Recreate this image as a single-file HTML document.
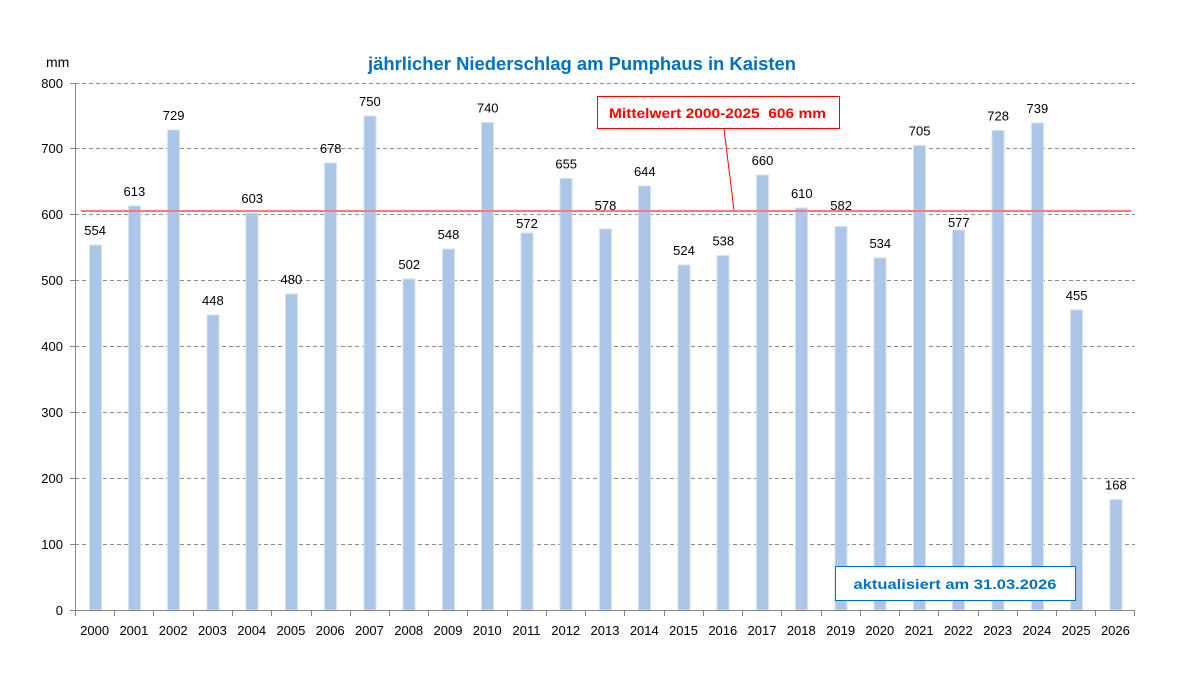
<!DOCTYPE html>
<html><head><meta charset="utf-8"><style>
html,body{margin:0;padding:0;background:#fff;}
svg{display:block;}
text{font-family:"Liberation Sans",sans-serif;}
</style></head><body>
<svg width="1180" height="681" viewBox="0 0 1180 681" xmlns="http://www.w3.org/2000/svg">
<rect width="1180" height="681" fill="#fff"/>
<text x="582" y="70" text-anchor="middle" font-size="18" font-weight="bold" fill="#0070C0" textLength="428" lengthAdjust="spacingAndGlyphs">jährlicher Niederschlag am Pumphaus in Kaisten</text>
<text x="46" y="67" font-size="14" fill="#000">mm</text>
<g stroke="#8c8c8c" stroke-width="1" stroke-dasharray="4,3">
<line x1="75" y1="83.5" x2="1135" y2="83.5"/>
<line x1="75" y1="148.5" x2="1135" y2="148.5"/>
<line x1="75" y1="214.5" x2="1135" y2="214.5"/>
<line x1="75" y1="280.5" x2="1135" y2="280.5"/>
<line x1="75" y1="346.5" x2="1135" y2="346.5"/>
<line x1="75" y1="412.5" x2="1135" y2="412.5"/>
<line x1="75" y1="478.5" x2="1135" y2="478.5"/>
<line x1="75" y1="544.5" x2="1135" y2="544.5"/>
</g>
<g font-size="13" fill="#000" text-anchor="end">
<text x="63" y="88">800</text>
<text x="63" y="153">700</text>
<text x="63" y="219">600</text>
<text x="63" y="285">500</text>
<text x="63" y="351">400</text>
<text x="63" y="417">300</text>
<text x="63" y="483">200</text>
<text x="63" y="549">100</text>
<text x="63" y="615">0</text>
</g>
<g fill="#abc6e7" stroke="#d3e1f2" stroke-width="1">
<rect x="89.5" y="245" width="12" height="365"/>
<rect x="128.5" y="206" width="12" height="404"/>
<rect x="167.5" y="130" width="12" height="480"/>
<rect x="207" y="315" width="12" height="295"/>
<rect x="246" y="213" width="12" height="397"/>
<rect x="285.5" y="294" width="12" height="316"/>
<rect x="324.5" y="163" width="12" height="447"/>
<rect x="364" y="116" width="12" height="494"/>
<rect x="403" y="279" width="12" height="331"/>
<rect x="442.5" y="249" width="12" height="361"/>
<rect x="481.5" y="122.5" width="12" height="487.5"/>
<rect x="521" y="233" width="12" height="377"/>
<rect x="560" y="178.5" width="12" height="431.5"/>
<rect x="599.5" y="229" width="12" height="381"/>
<rect x="638.5" y="186" width="12" height="424"/>
<rect x="678" y="265" width="12" height="345"/>
<rect x="717" y="255.5" width="12" height="354.5"/>
<rect x="756.5" y="175" width="12" height="435"/>
<rect x="795.5" y="208" width="12" height="402"/>
<rect x="835" y="226.5" width="12" height="383.5"/>
<rect x="874" y="258" width="12" height="352"/>
<rect x="913.5" y="145.5" width="12" height="464.5"/>
<rect x="952.5" y="230" width="12" height="380"/>
<rect x="992" y="130.5" width="12" height="479.5"/>
<rect x="1031.5" y="123" width="12" height="487"/>
<rect x="1070.5" y="310" width="12" height="300"/>
<rect x="1110" y="499.5" width="12" height="110.5"/>
</g>
<line x1="81" y1="211" x2="1131" y2="211" stroke="#f47c7c" stroke-width="2"/>
<g font-size="13" fill="#000" text-anchor="middle">
<text x="95.1" y="235">554</text>
<text x="134.4" y="196">613</text>
<text x="173.6" y="120">729</text>
<text x="212.9" y="305">448</text>
<text x="252.2" y="203">603</text>
<text x="291.4" y="284">480</text>
<text x="330.7" y="153">678</text>
<text x="369.9" y="106">750</text>
<text x="409.2" y="269">502</text>
<text x="448.5" y="239">548</text>
<text x="487.7" y="112.5">740</text>
<text x="527" y="228">572</text>
<text x="566.2" y="168.5">655</text>
<text x="605.5" y="210">578</text>
<text x="644.8" y="176">644</text>
<text x="684" y="255">524</text>
<text x="723.3" y="245.5">538</text>
<text x="762.5" y="165">660</text>
<text x="801.8" y="198">610</text>
<text x="841.1" y="210">582</text>
<text x="880.3" y="248">534</text>
<text x="919.6" y="135.5">705</text>
<text x="958.8" y="227">577</text>
<text x="998.1" y="120.5">728</text>
<text x="1037.4" y="113">739</text>
<text x="1076.6" y="300">455</text>
<text x="1115.9" y="489.5">168</text>
</g>
<line x1="724" y1="129" x2="734" y2="210" stroke="#ff0000" stroke-width="1"/>
<rect x="597.5" y="96.5" width="242" height="32" fill="#fff" stroke="#ff0000" stroke-width="1"/>
<text x="717.5" y="118" text-anchor="middle" font-size="14" font-weight="bold" fill="#ff0000" textLength="217" lengthAdjust="spacingAndGlyphs" xml:space="preserve">Mittelwert 2000-2025  606 mm</text>
<rect x="835.5" y="566.5" width="240" height="34" fill="#fff" stroke="#0070C0" stroke-width="1"/>
<text x="955" y="589" text-anchor="middle" font-size="14" font-weight="bold" fill="#0070C0" textLength="203" lengthAdjust="spacingAndGlyphs">aktualisiert am 31.03.2026</text>
<g stroke="#868686" stroke-width="1">
<line x1="75.5" y1="83" x2="75.5" y2="610"/>
<line x1="75" y1="610.5" x2="1135" y2="610.5"/>
<line x1="70" y1="83.5" x2="75" y2="83.5"/>
<line x1="70" y1="148.5" x2="75" y2="148.5"/>
<line x1="70" y1="214.5" x2="75" y2="214.5"/>
<line x1="70" y1="280.5" x2="75" y2="280.5"/>
<line x1="70" y1="346.5" x2="75" y2="346.5"/>
<line x1="70" y1="412.5" x2="75" y2="412.5"/>
<line x1="70" y1="478.5" x2="75" y2="478.5"/>
<line x1="70" y1="544.5" x2="75" y2="544.5"/>
<line x1="70" y1="610.5" x2="75" y2="610.5"/>
<line x1="75.5" y1="610" x2="75.5" y2="616"/>
<line x1="114.5" y1="610" x2="114.5" y2="616"/>
<line x1="153.5" y1="610" x2="153.5" y2="616"/>
<line x1="193.5" y1="610" x2="193.5" y2="616"/>
<line x1="232.5" y1="610" x2="232.5" y2="616"/>
<line x1="271.5" y1="610" x2="271.5" y2="616"/>
<line x1="311.5" y1="610" x2="311.5" y2="616"/>
<line x1="350.5" y1="610" x2="350.5" y2="616"/>
<line x1="389.5" y1="610" x2="389.5" y2="616"/>
<line x1="428.5" y1="610" x2="428.5" y2="616"/>
<line x1="467.5" y1="610" x2="467.5" y2="616"/>
<line x1="507.5" y1="610" x2="507.5" y2="616"/>
<line x1="546.5" y1="610" x2="546.5" y2="616"/>
<line x1="585.5" y1="610" x2="585.5" y2="616"/>
<line x1="624.5" y1="610" x2="624.5" y2="616"/>
<line x1="664.5" y1="610" x2="664.5" y2="616"/>
<line x1="703.5" y1="610" x2="703.5" y2="616"/>
<line x1="742.5" y1="610" x2="742.5" y2="616"/>
<line x1="781.5" y1="610" x2="781.5" y2="616"/>
<line x1="821.5" y1="610" x2="821.5" y2="616"/>
<line x1="860.5" y1="610" x2="860.5" y2="616"/>
<line x1="899.5" y1="610" x2="899.5" y2="616"/>
<line x1="938.5" y1="610" x2="938.5" y2="616"/>
<line x1="978.5" y1="610" x2="978.5" y2="616"/>
<line x1="1017.5" y1="610" x2="1017.5" y2="616"/>
<line x1="1056.5" y1="610" x2="1056.5" y2="616"/>
<line x1="1095.5" y1="610" x2="1095.5" y2="616"/>
<line x1="1134.5" y1="610" x2="1134.5" y2="616"/>
</g>
<g font-size="13" fill="#000" text-anchor="middle">
<text x="94.6" y="635">2000</text>
<text x="133.9" y="635">2001</text>
<text x="173.2" y="635">2002</text>
<text x="212.4" y="635">2003</text>
<text x="251.7" y="635">2004</text>
<text x="290.9" y="635">2005</text>
<text x="330.2" y="635">2006</text>
<text x="369.4" y="635">2007</text>
<text x="408.7" y="635">2008</text>
<text x="448" y="635">2009</text>
<text x="487.2" y="635">2010</text>
<text x="526.5" y="635">2011</text>
<text x="565.7" y="635">2012</text>
<text x="605" y="635">2013</text>
<text x="644.3" y="635">2014</text>
<text x="683.5" y="635">2015</text>
<text x="722.8" y="635">2016</text>
<text x="762" y="635">2017</text>
<text x="801.3" y="635">2018</text>
<text x="840.6" y="635">2019</text>
<text x="879.8" y="635">2020</text>
<text x="919.1" y="635">2021</text>
<text x="958.3" y="635">2022</text>
<text x="997.6" y="635">2023</text>
<text x="1036.9" y="635">2024</text>
<text x="1076.1" y="635">2025</text>
<text x="1115.4" y="635">2026</text>
</g>
</svg>
</body></html>
